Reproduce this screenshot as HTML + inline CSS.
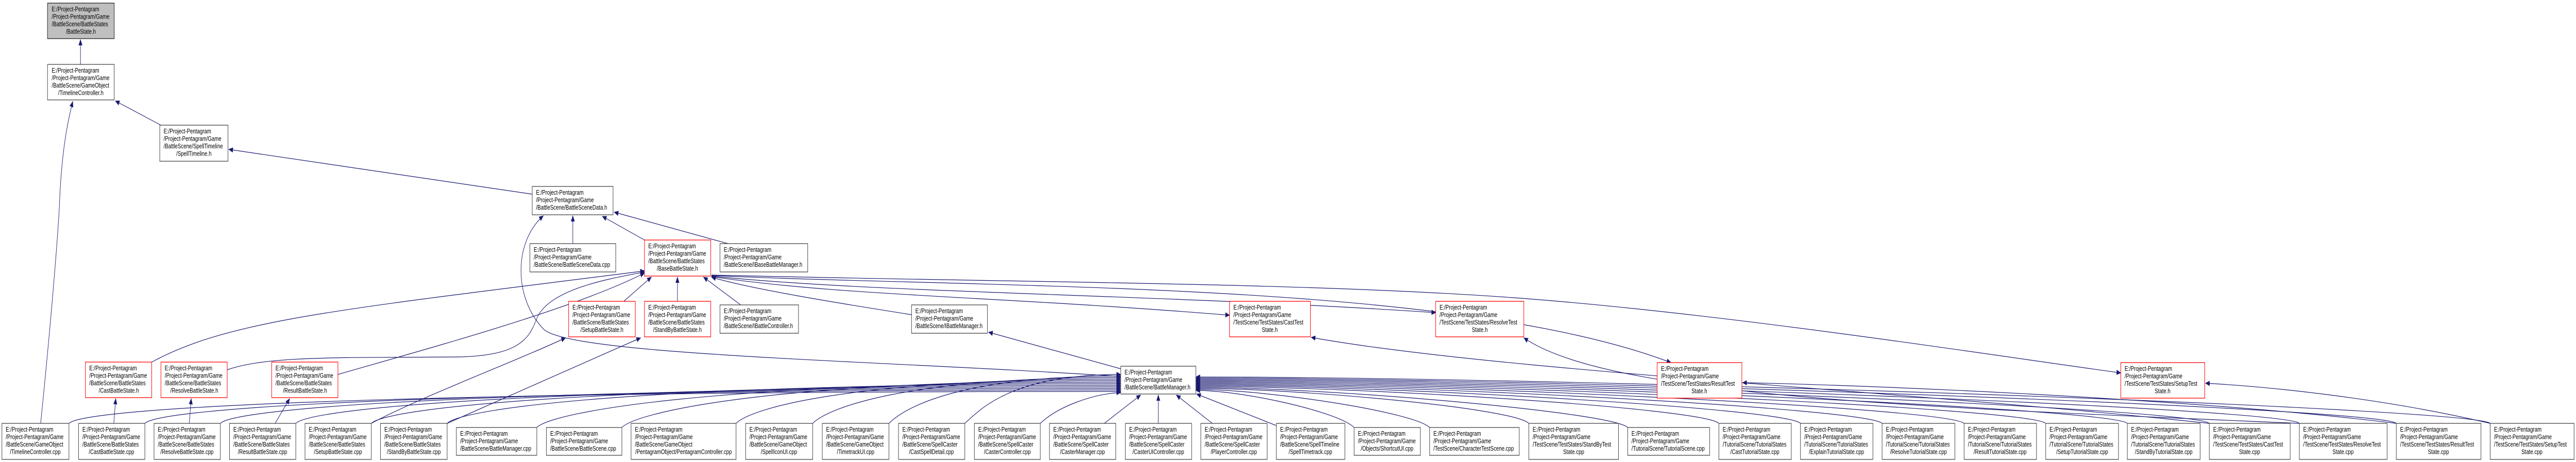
<!DOCTYPE html>
<html><head><meta charset="utf-8">
<style>
html,body{margin:0;padding:0;background:#fff;width:100%;height:100%;overflow:hidden;}
svg{display:block;width:100vw;height:100vh;}
text{font-family:"Liberation Sans",Arial,sans-serif;font-size:13px;fill:#000;}
.e{fill:none;stroke:#191970;stroke-width:1.2;marker-end:url(#ah);}
.n{fill:#fff;stroke:#444;stroke-width:1.3;}
.r{fill:#fff;stroke:#ff0000;stroke-width:1.3;}
.g{fill:#bfbfbf;stroke:#222;stroke-width:1.3;}
</style></head><body>
<svg viewBox="0 0 6723 897" preserveAspectRatio="none" xmlns="http://www.w3.org/2000/svg">
<defs>
<marker id="ah" markerWidth="12" markerHeight="10" refX="11" refY="5" orient="auto" markerUnits="userSpaceOnUse">
<path d="M0,0 L12,5 L0,10 z" fill="#191970"/>
</marker>
</defs>

<path class="e" d="M210,125 L210,77"/>
<path class="e" d="M420,243 L301,196"/>
<path class="e" d="M1389,377 L597,290"/>
<path class="e" d="M1495,473 L1495,419"/>
<path class="e" d="M1682,466 L1572,420"/>
<path class="e" d="M1900,473 L1603,412"/>
<path class="e" d="M1628,585 L1700,538"/>
<path class="e" d="M1768,585 L1768,538"/>
<path class="e" d="M1933,592 L1836,538"/>
<path class="e" d="M2379,611 C2200,590 1950,560 1857,538"/>
<path class="e" d="M2925,716 L2580,645"/>
<path class="e" d="M2925,731 C2300,700 1500,690 1420,640 C1340,580 1340,470 1418,419"/>
<path class="e" d="M106,822 C130,650 150,470 155,400 C160,300 175,240 190,197"/>
<path class="e" d="M297,822 L302,774"/>
<path class="e" d="M494,822 L499,774"/>
<path class="e" d="M718,822 L756,774"/>
<path class="e" d="M969,822 C1100,770 1350,700 1476,656"/>
<path class="e" d="M1167,822 L1672,656"/>
<path class="e" d="M396,703 C600,620 900,600 1682,526"/>
<path class="e" d="M593,718 C700,690 900,695 1200,693 C1350,690 1380,660 1400,620 C1430,560 1600,540 1682,528"/>
<path class="e" d="M882,727 C1100,680 1500,600 1682,530"/>
<path class="e" d="M1857,537 C2200,575 2600,575 3209,612"/>
<path class="e" d="M1857,536 C2300,570 3000,570 3747,607"/>
<path class="e" d="M1857,535 C2600,560 3800,545 4361,704"/>
<path class="e" d="M1857,534 C2600,548 3400,548 3950,578 S5200,690 5535,724"/>
<path class="e" d="M5766,822 C5000,760 3900,720 3422,655"/>
<path class="e" d="M6001,822 C5000,790 4200,770 3977,656"/>
<path class="e" d="M6254,822 C5800,780 5000,750 4548,743"/>
<path class="e" d="M6499,822 C6200,770 5900,750 5756,744"/>
<path class="e" d="M180,822 C220,792 1004,760 2925,760"/>
<path class="e" d="M378,822 C418,792 1142,757 2925,757"/>
<path class="e" d="M575,822 C615,792 1280,754 2925,754"/>
<path class="e" d="M772,822 C812,792 1418,751 2925,751"/>
<path class="e" d="M969,822 C1009,792 1556,748 2925,748"/>
<path class="e" d="M1167,822 C1207,792 1694,745 2925,745"/>
<path class="e" d="M1401,830 C1441,800 1858,742 2925,742"/>
<path class="e" d="M1623,830 C1663,800 2014,739 2925,739"/>
<path class="e" d="M1921,822 C1961,792 2222,736 2925,736"/>
<path class="e" d="M2121,822 C2161,792 2362,733 2925,733"/>
<path class="e" d="M2320,822 C2360,792 2502,730 2925,730"/>
<path class="e" d="M2518,822 C2558,795 2640,727 2925,727"/>
<path class="e" d="M2715,822 C2760,790 2850,765 2925,762"/>
<path class="e" d="M2882,822 L2977,767"/>
<path class="e" d="M3023,822 L3023,767"/>
<path class="e" d="M3164,822 L3070,767"/>
<path class="e" d="M3330,826 L3123,765"/>
<path class="e" d="M3534,830 C3494,800 3245,758 3121,758"/>
<path class="e" d="M3731,830 C3691,800 3304,756 3121,756"/>
<path class="e" d="M3990,822 C3950,792 3382,754 3121,754"/>
<path class="e" d="M4248,830 C4208,800 3459,752 3121,752"/>
<path class="e" d="M4486,822 C4446,792 3531,750 3121,750"/>
<path class="e" d="M4699,822 C4659,792 3594,748 3121,748"/>
<path class="e" d="M4912,822 C4872,792 3658,746 3121,746"/>
<path class="e" d="M5126,822 C5086,792 3722,744 3121,744"/>
<path class="e" d="M5339,822 C5299,792 3786,742 3121,742"/>
<path class="e" d="M5552,822 C5512,792 3850,740 3121,740"/>
<path class="e" d="M5766,822 C5726,792 3914,738 3121,738"/>
<path class="e" d="M6001,822 C5961,792 3985,736 3121,736"/>
<path class="e" d="M6254,822 C6214,792 4061,734 3121,734"/>
<path class="e" d="M6499,822 C6459,792 4134,732 3121,732"/>

<g>
<rect class="g" x="124" y="6" width="174" height="69"/>
<text x="135" y="22">E:/Project-Pentagram</text><text x="135" y="36.5">/Project-Pentagram/Game</text><text x="135" y="51">/BattleScene/BattleStates</text><text x="211" y="65.5" text-anchor="middle">/BattleState.h</text>

<rect class="n" x="124" y="125" width="174" height="69"/>
<text x="135" y="141">E:/Project-Pentagram</text><text x="135" y="155.5">/Project-Pentagram/Game</text><text x="135" y="170">/BattleScene/GameObject</text><text x="211" y="184.5" text-anchor="middle">/TimelineController.h</text>

<rect class="n" x="417" y="243" width="178" height="70"/>
<text x="427" y="259">E:/Project-Pentagram</text><text x="427" y="273.5">/Project-Pentagram/Game</text><text x="427" y="288">/BattleScene/SpellTimeline</text><text x="506" y="302.5" text-anchor="middle">/SpellTimeline.h</text>

<rect class="n" x="1389" y="362" width="211" height="55"/>
<text x="1399" y="378">E:/Project-Pentagram</text><text x="1399" y="392.5">/Project-Pentagram/Game</text><text x="1399" y="407">/BattleScene/BattleSceneData.h</text>

<rect class="n" x="1383" y="473" width="224" height="55"/>
<text x="1393" y="489">E:/Project-Pentagram</text><text x="1393" y="503.5">/Project-Pentagram/Game</text><text x="1393" y="518">/BattleScene/BattleSceneData.cpp</text>

<rect class="r" x="1682" y="466" width="173" height="70"/>
<text x="1692" y="482">E:/Project-Pentagram</text><text x="1692" y="496.5">/Project-Pentagram/Game</text><text x="1692" y="511">/BattleScene/BattleStates</text><text x="1768" y="525.5" text-anchor="middle">/BaseBattleState.h</text>

<rect class="n" x="1879" y="473" width="229" height="55"/>
<text x="1889" y="489">E:/Project-Pentagram</text><text x="1889" y="503.5">/Project-Pentagram/Game</text><text x="1889" y="518">/BattleScene/IBaseBattleManager.h</text>

<rect class="r" x="1484" y="585" width="174" height="69"/>
<text x="1494" y="601">E:/Project-Pentagram</text><text x="1494" y="615.5">/Project-Pentagram/Game</text><text x="1494" y="630">/BattleScene/BattleStates</text><text x="1571" y="644.5" text-anchor="middle">/SetupBattleState.h</text>

<rect class="r" x="1682" y="585" width="173" height="69"/>
<text x="1692" y="601">E:/Project-Pentagram</text><text x="1692" y="615.5">/Project-Pentagram/Game</text><text x="1692" y="630">/BattleScene/BattleStates</text><text x="1768" y="644.5" text-anchor="middle">/StandByBattleState.h</text>

<rect class="n" x="1879" y="592" width="205" height="55"/>
<text x="1889" y="608">E:/Project-Pentagram</text><text x="1889" y="622.5">/Project-Pentagram/Game</text><text x="1889" y="637">/BattleScene/IBattleController.h</text>

<rect class="n" x="2379" y="592" width="198" height="55"/>
<text x="2389" y="608">E:/Project-Pentagram</text><text x="2389" y="622.5">/Project-Pentagram/Game</text><text x="2389" y="637">/BattleScene/IBattleManager.h</text>

<rect class="r" x="223" y="703" width="173" height="69"/>
<text x="233" y="719">E:/Project-Pentagram</text><text x="233" y="733.5">/Project-Pentagram/Game</text><text x="233" y="748">/BattleScene/BattleStates</text><text x="310" y="762.5" text-anchor="middle">/CastBattleState.h</text>

<rect class="r" x="420" y="703" width="173" height="69"/>
<text x="430" y="719">E:/Project-Pentagram</text><text x="430" y="733.5">/Project-Pentagram/Game</text><text x="430" y="748">/BattleScene/BattleStates</text><text x="507" y="762.5" text-anchor="middle">/ResolveBattleState.h</text>

<rect class="r" x="709" y="703" width="173" height="69"/>
<text x="719" y="719">E:/Project-Pentagram</text><text x="719" y="733.5">/Project-Pentagram/Game</text><text x="719" y="748">/BattleScene/BattleStates</text><text x="796" y="762.5" text-anchor="middle">/ResultBattleState.h</text>

<rect class="n" x="2925" y="711" width="196" height="54"/>
<text x="2935" y="727">E:/Project-Pentagram</text><text x="2935" y="741.5">/Project-Pentagram/Game</text><text x="2935" y="756">/BattleScene/BattleManager.h</text>

<rect class="r" x="3209" y="585" width="211" height="69"/>
<text x="3219" y="601">E:/Project-Pentagram</text><text x="3219" y="615.5">/Project-Pentagram/Game</text><text x="3219" y="630">/TestScene/TestStates/CastTest</text><text x="3314" y="644.5" text-anchor="middle">State.h</text>

<rect class="r" x="3747" y="585" width="230" height="69"/>
<text x="3757" y="601">E:/Project-Pentagram</text><text x="3757" y="615.5">/Project-Pentagram/Game</text><text x="3757" y="630">/TestScene/TestStates/ResolveTest</text><text x="3862" y="644.5" text-anchor="middle">State.h</text>

<rect class="r" x="4325" y="704" width="221" height="69"/>
<text x="4335" y="720">E:/Project-Pentagram</text><text x="4335" y="734.5">/Project-Pentagram/Game</text><text x="4335" y="749">/TestScene/TestStates/ResultTest</text><text x="4435" y="763.5" text-anchor="middle">State.h</text>

<rect class="r" x="5535" y="704" width="219" height="69"/>
<text x="5545" y="720">E:/Project-Pentagram</text><text x="5545" y="734.5">/Project-Pentagram/Game</text><text x="5545" y="749">/TestScene/TestStates/SetupTest</text><text x="5644" y="763.5" text-anchor="middle">State.h</text>
</g>

<g>
<rect class="n" x="5" y="822" width="175" height="70"/><text x="15" y="838">E:/Project-Pentagram</text><text x="15" y="852.5">/Project-Pentagram/Game</text><text x="15" y="867">/BattleScene/GameObject</text><text x="92" y="881.5" text-anchor="middle">/TimelineController.cpp</text>
<rect class="n" x="205" y="822" width="173" height="70"/><text x="215" y="838">E:/Project-Pentagram</text><text x="215" y="852.5">/Project-Pentagram/Game</text><text x="215" y="867">/BattleScene/BattleStates</text><text x="291" y="881.5" text-anchor="middle">/CastBattleState.cpp</text>
<rect class="n" x="402" y="822" width="173" height="70"/><text x="412" y="838">E:/Project-Pentagram</text><text x="412" y="852.5">/Project-Pentagram/Game</text><text x="412" y="867">/BattleScene/BattleStates</text><text x="488" y="881.5" text-anchor="middle">/ResolveBattleState.cpp</text>
<rect class="n" x="599" y="822" width="173" height="70"/><text x="609" y="838">E:/Project-Pentagram</text><text x="609" y="852.5">/Project-Pentagram/Game</text><text x="609" y="867">/BattleScene/BattleStates</text><text x="685" y="881.5" text-anchor="middle">/ResultBattleState.cpp</text>
<rect class="n" x="796" y="822" width="173" height="70"/><text x="806" y="838">E:/Project-Pentagram</text><text x="806" y="852.5">/Project-Pentagram/Game</text><text x="806" y="867">/BattleScene/BattleStates</text><text x="882" y="881.5" text-anchor="middle">/SetupBattleState.cpp</text>
<rect class="n" x="993" y="822" width="174" height="70"/><text x="1003" y="838">E:/Project-Pentagram</text><text x="1003" y="852.5">/Project-Pentagram/Game</text><text x="1003" y="867">/BattleScene/BattleStates</text><text x="1080" y="881.5" text-anchor="middle">/StandByBattleState.cpp</text>
<rect class="n" x="1191" y="830" width="210" height="54"/><text x="1201" y="846">E:/Project-Pentagram</text><text x="1201" y="860.5">/Project-Pentagram/Game</text><text x="1201" y="875">/BattleScene/BattleManager.cpp</text>
<rect class="n" x="1426" y="830" width="197" height="54"/><text x="1436" y="846">E:/Project-Pentagram</text><text x="1436" y="860.5">/Project-Pentagram/Game</text><text x="1436" y="875">/BattleScene/BattleScene.cpp</text>
<rect class="n" x="1647" y="822" width="274" height="70"/><text x="1657" y="838">E:/Project-Pentagram</text><text x="1657" y="852.5">/Project-Pentagram/Game</text><text x="1657" y="867">/BattleScene/GameObject</text><text x="1784" y="881.5" text-anchor="middle">/PentagramObject/PentagramController.cpp</text>
<rect class="n" x="1946" y="822" width="175" height="70"/><text x="1956" y="838">E:/Project-Pentagram</text><text x="1956" y="852.5">/Project-Pentagram/Game</text><text x="1956" y="867">/BattleScene/GameObject</text><text x="2033" y="881.5" text-anchor="middle">/SpellIconUI.cpp</text>
<rect class="n" x="2146" y="822" width="174" height="70"/><text x="2156" y="838">E:/Project-Pentagram</text><text x="2156" y="852.5">/Project-Pentagram/Game</text><text x="2156" y="867">/BattleScene/GameObject</text><text x="2233" y="881.5" text-anchor="middle">/TimetrackUI.cpp</text>
<rect class="n" x="2345" y="822" width="173" height="70"/><text x="2355" y="838">E:/Project-Pentagram</text><text x="2355" y="852.5">/Project-Pentagram/Game</text><text x="2355" y="867">/BattleScene/SpellCaster</text><text x="2431" y="881.5" text-anchor="middle">/CastSpellDetail.cpp</text>
<rect class="n" x="2543" y="822" width="172" height="70"/><text x="2553" y="838">E:/Project-Pentagram</text><text x="2553" y="852.5">/Project-Pentagram/Game</text><text x="2553" y="867">/BattleScene/SpellCaster</text><text x="2629" y="881.5" text-anchor="middle">/CasterController.cpp</text>
<rect class="n" x="2739" y="822" width="173" height="70"/><text x="2749" y="838">E:/Project-Pentagram</text><text x="2749" y="852.5">/Project-Pentagram/Game</text><text x="2749" y="867">/BattleScene/SpellCaster</text><text x="2825" y="881.5" text-anchor="middle">/CasterManager.cpp</text>
<rect class="n" x="2937" y="822" width="173" height="70"/><text x="2947" y="838">E:/Project-Pentagram</text><text x="2947" y="852.5">/Project-Pentagram/Game</text><text x="2947" y="867">/BattleScene/SpellCaster</text><text x="3023" y="881.5" text-anchor="middle">/CasterUIController.cpp</text>
<rect class="n" x="3134" y="822" width="173" height="70"/><text x="3144" y="838">E:/Project-Pentagram</text><text x="3144" y="852.5">/Project-Pentagram/Game</text><text x="3144" y="867">/BattleScene/SpellCaster</text><text x="3220" y="881.5" text-anchor="middle">/PlayerController.cpp</text>
<rect class="n" x="3331" y="822" width="179" height="70"/><text x="3341" y="838">E:/Project-Pentagram</text><text x="3341" y="852.5">/Project-Pentagram/Game</text><text x="3341" y="867">/BattleScene/SpellTimeline</text><text x="3420" y="881.5" text-anchor="middle">/SpellTimetrack.cpp</text>
<rect class="n" x="3534" y="830" width="173" height="54"/><text x="3544" y="846">E:/Project-Pentagram</text><text x="3544" y="860.5">/Project-Pentagram/Game</text><text x="3620" y="875" text-anchor="middle">/Objects/ShortcutUI.cpp</text>
<rect class="n" x="3731" y="830" width="234" height="54"/><text x="3741" y="846">E:/Project-Pentagram</text><text x="3741" y="860.5">/Project-Pentagram/Game</text><text x="3741" y="875">/TestScene/CharacterTestScene.cpp</text>
<rect class="n" x="3990" y="822" width="234" height="70"/><text x="4000" y="838">E:/Project-Pentagram</text><text x="4000" y="852.5">/Project-Pentagram/Game</text><text x="4000" y="867">/TestScene/TestStates/StandByTest</text><text x="4107" y="881.5" text-anchor="middle">State.cpp</text>
<rect class="n" x="4248" y="830" width="214" height="54"/><text x="4258" y="846">E:/Project-Pentagram</text><text x="4258" y="860.5">/Project-Pentagram/Game</text><text x="4258" y="875">/TutorialScene/TutorialScene.cpp</text>
<rect class="n" x="4486" y="822" width="189" height="70"/><text x="4496" y="838">E:/Project-Pentagram</text><text x="4496" y="852.5">/Project-Pentagram/Game</text><text x="4496" y="867">/TutorialScene/TutorialStates</text><text x="4580" y="881.5" text-anchor="middle">/CastTutorialState.cpp</text>
<rect class="n" x="4699" y="822" width="189" height="70"/><text x="4709" y="838">E:/Project-Pentagram</text><text x="4709" y="852.5">/Project-Pentagram/Game</text><text x="4709" y="867">/TutorialScene/TutorialStates</text><text x="4793" y="881.5" text-anchor="middle">/ExplainTutorialState.cpp</text>
<rect class="n" x="4912" y="822" width="190" height="70"/><text x="4922" y="838">E:/Project-Pentagram</text><text x="4922" y="852.5">/Project-Pentagram/Game</text><text x="4922" y="867">/TutorialScene/TutorialStates</text><text x="5007" y="881.5" text-anchor="middle">/ResolveTutorialState.cpp</text>
<rect class="n" x="5126" y="822" width="189" height="70"/><text x="5136" y="838">E:/Project-Pentagram</text><text x="5136" y="852.5">/Project-Pentagram/Game</text><text x="5136" y="867">/TutorialScene/TutorialStates</text><text x="5220" y="881.5" text-anchor="middle">/ResultTutorialState.cpp</text>
<rect class="n" x="5339" y="822" width="190" height="70"/><text x="5349" y="838">E:/Project-Pentagram</text><text x="5349" y="852.5">/Project-Pentagram/Game</text><text x="5349" y="867">/TutorialScene/TutorialStates</text><text x="5434" y="881.5" text-anchor="middle">/SetupTutorialState.cpp</text>
<rect class="n" x="5552" y="822" width="190" height="70"/><text x="5562" y="838">E:/Project-Pentagram</text><text x="5562" y="852.5">/Project-Pentagram/Game</text><text x="5562" y="867">/TutorialScene/TutorialStates</text><text x="5647" y="881.5" text-anchor="middle">/StandByTutorialState.cpp</text>
<rect class="n" x="5766" y="822" width="211" height="70"/><text x="5776" y="838">E:/Project-Pentagram</text><text x="5776" y="852.5">/Project-Pentagram/Game</text><text x="5776" y="867">/TestScene/TestStates/CastTest</text><text x="5871" y="881.5" text-anchor="middle">State.cpp</text>
<rect class="n" x="6001" y="822" width="229" height="70"/><text x="6011" y="838">E:/Project-Pentagram</text><text x="6011" y="852.5">/Project-Pentagram/Game</text><text x="6011" y="867">/TestScene/TestStates/ResolveTest</text><text x="6115" y="881.5" text-anchor="middle">State.cpp</text>
<rect class="n" x="6254" y="822" width="221" height="70"/><text x="6264" y="838">E:/Project-Pentagram</text><text x="6264" y="852.5">/Project-Pentagram/Game</text><text x="6264" y="867">/TestScene/TestStates/ResultTest</text><text x="6364" y="881.5" text-anchor="middle">State.cpp</text>
<rect class="n" x="6499" y="822" width="219" height="70"/><text x="6509" y="838">E:/Project-Pentagram</text><text x="6509" y="852.5">/Project-Pentagram/Game</text><text x="6509" y="867">/TestScene/TestStates/SetupTest</text><text x="6608" y="881.5" text-anchor="middle">State.cpp</text>
</g>
</svg>
</body></html>
